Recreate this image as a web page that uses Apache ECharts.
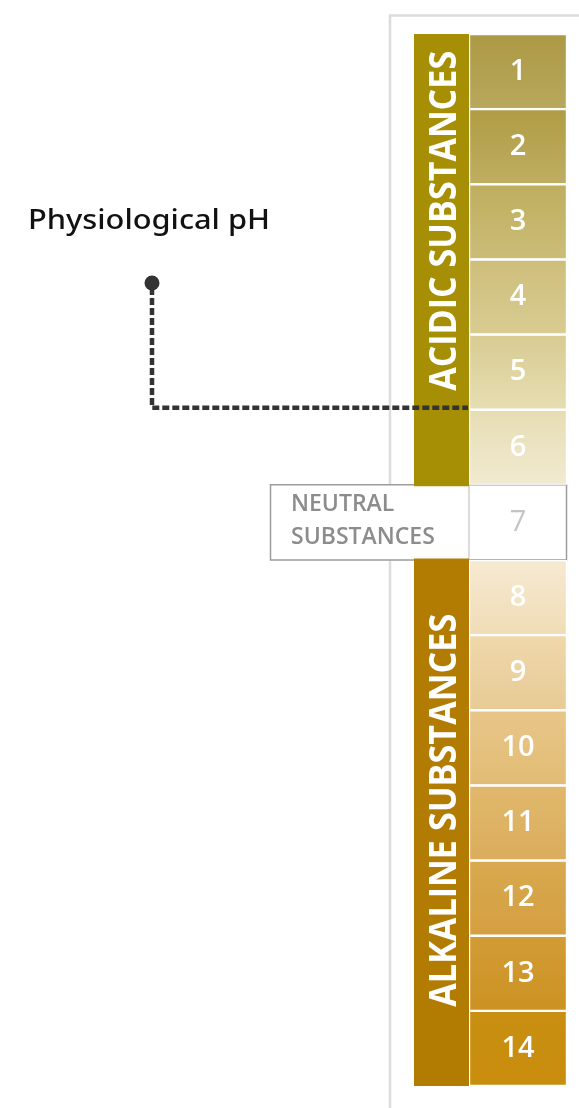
<!DOCTYPE html>
<html><head><meta charset="utf-8">
<script src="https://cdn.jsdelivr.net/npm/echarts@6/dist/echarts.min.js"></script>
<style>html,body{margin:0;padding:0;background:#fff}#c{width:579px;height:1108px}</style>
</head><body><div id="c"></div>
<script>
// ---- data ----
const phLevels = ['1','2','3','4','5','6','7','8','9','10','11','12','13','14'];
const cellValues = [1,1,1,1,1,1,1,1,1,1,1,1,1,1]; // each pH step is one equal cell
const cellGroup = ['acidic','acidic','acidic','acidic','acidic','acidic','neutral',
  'alkaline','alkaline','alkaline','alkaline','alkaline','alkaline','alkaline'];
const groupLabels = { acidic: 'ACIDIC SUBSTANCES', neutral: 'NEUTRAL\nSUBSTANCES', alkaline: 'ALKALINE SUBSTANCES' };
const markerLabel = 'Physiological pH';
const markerBetween = ['5', '6'];

// ---- styles ----
const cellTop = ['#ab9944','#b09c44','#bfae5e','#cdbe7a','#d8cc92','#e6ddb4','rgba(0,0,0,0)',
  '#f6ead2','#efd8ac','#e7c688','#e0b86c','#d8a94f','#d29c36','#c98f12'];
const cellBottom = ['#b9a85d','#bfae62','#cbbd78','#d9cc92','#e6ddb2','#f1ead0','rgba(0,0,0,0)',
  '#f0dcb6','#e8cb95','#e2bc75','#dbad5c','#d49f40','#cc9222','#c88d0c'];
const bandColor = { acidic: '#a68f04', alkaline: '#b27c02' };

const chart = echarts.init(document.getElementById('c'), null, { renderer: 'canvas' });

const cellData = cellValues.map((v, i) => ({
  value: v,
  itemStyle: cellGroup[i] === 'neutral'
    ? { color: 'rgba(0,0,0,0)', borderWidth: 0 }
    : { color: new echarts.graphic.LinearGradient(0, 0, 0, 1, [
        { offset: 0, color: cellTop[i] }, { offset: 1, color: cellBottom[i] }]) },
  label: cellGroup[i] === 'neutral' ? { color: '#c4c4c4', fontWeight: 400 } : undefined
}));
const bandData = cellValues.map((v, i) => cellGroup[i] === 'neutral' ? null
  : { value: v, itemStyle: { color: bandColor[cellGroup[i]] } });

chart.setOption({
  animation: false,
  backgroundColor: '#fff',
  grid: [
    { left: 469, top: 34, width: 98, height: 1052 },
    { left: 414, top: 34, width: 55, height: 1052 }
  ],
  xAxis: [
    { gridIndex: 0, type: 'value', min: 0, max: 1, show: false },
    { gridIndex: 1, type: 'value', min: 0, max: 1, show: false }
  ],
  yAxis: [
    { gridIndex: 0, type: 'category', data: phLevels, inverse: true, show: false },
    { gridIndex: 1, type: 'category', data: phLevels, inverse: true, show: false }
  ],
  series: [
    {
      type: 'bar', xAxisIndex: 0, yAxisIndex: 0, data: cellData, barWidth: '100%', z: 3,
      itemStyle: { borderColor: '#ffffff', borderWidth: 1.2 },
      label: { show: true, position: 'inside', formatter: p => phLevels[p.dataIndex],
        color: '#ffffff', fontFamily: '"Open Sans"', fontWeight: 600, fontSize: 29 }
    },
    {
      type: 'bar', xAxisIndex: 1, yAxisIndex: 1, data: bandData, barWidth: '104%', z: 2,
      itemStyle: { borderWidth: 0 }
    }
  ]
});

function yOf(cat) { return chart.convertToPixel({ yAxisIndex: 0 }, cat); }
const measureCtx = document.createElement('canvas').getContext('2d');
function widthOf(text, font) { measureCtx.font = font; return measureCtx.measureText(text).width; }

const y5 = yOf(markerBetween[0]), y6 = yOf(markerBetween[1]);
const markerY = (y5 + y6) / 2 - 2;
const y7 = yOf('7');
const step = y6 - y5;
const boxTop = y7 - step / 2, boxBottom = y7 + step / 2;
const acidCenter = (yOf('1') + yOf('5')) / 2 - 1;
const alkCenter = yOf('10') + 0.83 * step;

const bandFont = 'bold 38px "Open Sans"';
const acidScale = 340 / widthOf(groupLabels.acidic, bandFont);
const alkScale = 393 / widthOf(groupLabels.alkaline, bandFont);
const titleFont = '500 27px "Noto Sans"';
const titleScale = 242 / widthOf(markerLabel, titleFont);

chart.setOption({
  graphic: [
    { type: 'polyline', z: 0, shape: { points: [[390, 1108], [390, 15.5], [579, 15.5]] },
      style: { stroke: '#dcdcdc', lineWidth: 2.5, fill: null } },
    { type: 'rect', z: 1, shape: { x: 270.5, y: boxTop, width: 296, height: boxBottom - boxTop },
      style: { fill: '#ffffff', stroke: '#9c9c9c', lineWidth: 1.5 } },
    { type: 'line', z: 1, shape: { x1: 469, y1: boxTop, x2: 469, y2: boxBottom },
      style: { stroke: '#c4c4c4', lineWidth: 1.2 } },
    { type: 'text', z: 5, x: 291, y: (boxTop + boxBottom) / 2 - 1,
      style: { text: groupLabels.neutral, font: '600 23px "Open Sans"', fill: '#8c8c8c',
        verticalAlign: 'middle', align: 'left', lineHeight: 33 } },
    { type: 'text', z: 10, x: 445, y: acidCenter, rotation: Math.PI / 2, scaleX: acidScale,
      style: { text: groupLabels.acidic, font: bandFont, fill: '#ffffff', align: 'center', verticalAlign: 'middle' } },
    { type: 'text', z: 10, x: 445, y: alkCenter, rotation: Math.PI / 2, scaleX: alkScale,
      style: { text: groupLabels.alkaline, font: bandFont, fill: '#ffffff', align: 'center', verticalAlign: 'middle' } },
    { type: 'polyline', z: 10, shape: { points: [[152, 288], [152, markerY], [468, markerY]] },
      style: { stroke: '#333333', lineWidth: 4.5, lineDash: [7, 3], fill: null } },
    { type: 'circle', z: 11, shape: { cx: 152, cy: 283, r: 7.5 }, style: { fill: '#333333' } },
    { type: 'text', z: 10, x: 28, y: 221, scaleX: titleScale,
      style: { text: markerLabel, font: titleFont, fill: '#111111', align: 'left', verticalAlign: 'middle' } }
  ]
});
</script></body></html>
